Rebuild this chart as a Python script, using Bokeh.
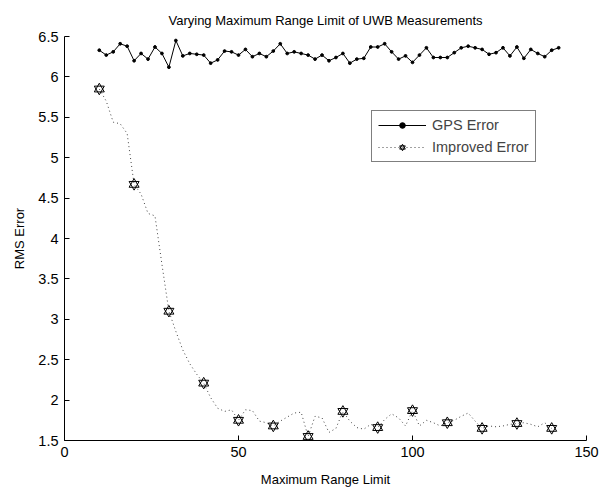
from bokeh.plotting import figure
from bokeh.models import Range1d, FixedTicker, Legend, LegendItem
from bokeh.embed import file_html
from bokeh.resources import INLINE

# ---- data ----
gps_x = list(range(10, 143, 2))
gps_err = [6.33, 6.27, 6.31, 6.41, 6.38, 6.20, 6.29, 6.22, 6.37, 6.29,
           6.12, 6.45, 6.26, 6.29, 6.28, 6.27, 6.17, 6.21, 6.32, 6.31,
           6.27, 6.34, 6.25, 6.29, 6.25, 6.32, 6.41, 6.29, 6.31, 6.29,
           6.27, 6.22, 6.27, 6.20, 6.24, 6.29, 6.17, 6.22, 6.23, 6.37,
           6.37, 6.41, 6.31, 6.22, 6.26, 6.18, 6.27, 6.36, 6.24, 6.24,
           6.24, 6.30, 6.36, 6.38, 6.36, 6.34, 6.28, 6.30, 6.36, 6.26,
           6.37, 6.23, 6.34, 6.29, 6.25, 6.33, 6.36]

imp_x = list(range(10, 141, 2))
imp_err = [5.85, 5.70, 5.44, 5.42, 5.30, 4.67, 4.55, 4.31, 4.28, 3.68,
           3.10, 2.85, 2.62, 2.45, 2.32, 2.21, 2.03, 1.90, 1.86, 1.88,
           1.75, 1.88, 1.87, 1.74, 1.72, 1.68, 1.74, 1.79, 1.84, 1.85,
           1.55, 1.80, 1.78, 1.60, 1.65, 1.86, 1.74, 1.66, 1.64, 1.70,
           1.66, 1.76, 1.83, 1.78, 1.68, 1.87, 1.68, 1.75, 1.72, 1.68,
           1.72, 1.75, 1.80, 1.84, 1.74, 1.65, 1.68, 1.67, 1.68, 1.70,
           1.71, 1.72, 1.70, 1.67, 1.72, 1.65]

star_x = imp_x[::5]
star_err = imp_err[::5]

x_ticks = [0, 50, 100, 150]
y_ticks = [1.5, 2, 2.5, 3, 3.5, 4, 4.5, 5, 5.5, 6, 6.5]

FONT = "Liberation Sans"

p = figure(width=610, height=491, output_backend="svg", toolbar_location=None,
           x_range=Range1d(0, 150), y_range=Range1d(1.5, 6.5),
           min_border_left=64, min_border_right=24, min_border_top=36,
           min_border_bottom=51,
           title="Varying Maximum Range Limit of UWB Measurements")
p.outline_line_color = None
p.grid.visible = False
p.background_fill_color = "white"
p.border_fill_color = "white"

p.title.align = "center"
p.title.text_font = FONT
p.title.text_font_size = "13px"
p.title.text_font_style = "normal"
p.title.text_color = "black"
p.title.standoff = 18

for ax in (p.xaxis[0], p.yaxis[0]):
    ax.major_tick_in = 5
    ax.major_tick_out = 0
    ax.minor_tick_in = 0
    ax.minor_tick_out = 0
    ax.axis_line_color = "black"
    ax.major_tick_line_color = "black"
    ax.major_label_text_font = FONT
    ax.major_label_text_font_size = "14.5px"
    ax.major_label_text_color = "black"
    ax.axis_label_text_font = FONT
    ax.axis_label_text_font_size = "13px"
    ax.axis_label_text_font_style = "normal"
    ax.axis_label_text_color = "black"

p.xaxis.ticker = FixedTicker(ticks=x_ticks)
p.yaxis.ticker = FixedTicker(ticks=y_ticks)
p.xaxis.major_label_standoff = 6
p.yaxis.major_label_standoff = 6
p.xaxis.axis_label = "Maximum Range Limit"
p.yaxis.axis_label = "RMS Error"
p.xaxis.axis_label_standoff = 12
p.yaxis.axis_label_standoff = 8

gps_line = p.line(gps_x, gps_err, line_color="black", line_width=1)
gps_pts = p.scatter(gps_x, gps_err, marker="circle", size=2.8,
                    fill_color="black", line_color="black")

imp_line = p.line(imp_x, imp_err, line_color="#444444", line_width=1,
                  line_dash="1 3")
tri_up = p.scatter(star_x, star_err, marker="triangle", size=10,
                   fill_color=None, line_color="black", line_width=1)
tri_dn = p.scatter(star_x, star_err, marker="inverted_triangle", size=10,
                   fill_color=None, line_color="black", line_width=1)

legend = Legend(items=[
    LegendItem(label="GPS Error", renderers=[gps_line, gps_pts]),
    LegendItem(label="Improved Error", renderers=[imp_line, tri_up, tri_dn]),
], location=(307, 278))
legend.border_line_color = "black"
legend.border_line_width = 1
legend.background_fill_alpha = 1
legend.label_text_font = FONT
legend.label_text_font_size = "14.5px"
legend.glyph_width = 48
legend.glyph_height = 14
legend.padding = 6
legend.spacing = 6
legend.margin = 0
legend.label_standoff = 6
p.add_layout(legend, "center")

open("out.html", "w").write(file_html(p, INLINE))
